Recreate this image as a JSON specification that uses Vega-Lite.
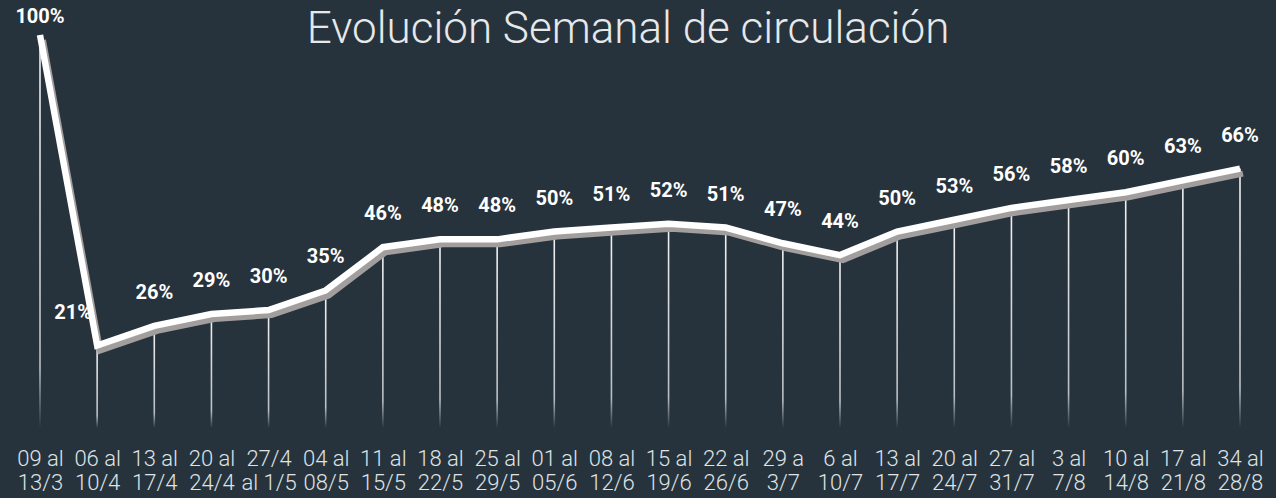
{
  "$schema": "https://vega.github.io/schema/vega-lite/v6.json",
  "width": 1200,
  "height": 393,
  "autosize": "none",
  "padding": {"left": 40, "top": 35, "right": 36, "bottom": 70},
  "background": "#27333c",
  "config": {"view": {"stroke": null}},
  "title": {
    "text": "Evolución Semanal de circulación",
    "font": "Roboto",
    "fontSize": 44,
    "fontWeight": 300,
    "color": "#e6e8ea",
    "anchor": "middle",
    "frame": "group",
    "baseline": "alphabetic",
    "offset": 0,
    "dy": 80,
    "dx": -12
  },
  "data": {
    "values": [
      {"week": "09 al|13/3", "value": 100},
      {"week": "06 al|10/4", "value": 21},
      {"week": "13 al|17/4", "value": 26},
      {"week": "20 al|24/4", "value": 29},
      {"week": "27/4|al 1/5", "value": 30},
      {"week": "04 al|08/5", "value": 35},
      {"week": "11 al|15/5", "value": 46},
      {"week": "18 al|22/5", "value": 48},
      {"week": "25 al|29/5", "value": 48},
      {"week": "01 al|05/6", "value": 50},
      {"week": "08 al|12/6", "value": 51},
      {"week": "15 al|19/6", "value": 52},
      {"week": "22 al|26/6", "value": 51},
      {"week": "29 a|3/7", "value": 47},
      {"week": "6 al|10/7", "value": 44},
      {"week": "13 al|17/7", "value": 50},
      {"week": "20 al|24/7", "value": 53},
      {"week": "27 al|31/7", "value": 56},
      {"week": "3 al|7/8", "value": 58},
      {"week": "10 al|14/8", "value": 60},
      {"week": "17 al|21/8", "value": 63},
      {"week": "34 al|28/8", "value": 66}
    ]
  },
  "encoding": {
    "x": {
      "field": "week",
      "type": "ordinal",
      "sort": null,
      "scale": {"type": "point", "padding": 0},
      "axis": {
        "title": null,
        "labelExpr": "split(datum.label, '|')",
        "labelAngle": 0,
        "labelFont": "Roboto",
        "labelFontSize": 22,
        "labelFontWeight": 300,
        "labelColor": "#dfe3e6",
        "labelLineHeight": 24,
        "labelBaseline": "top",
        "labelPadding": 20,
        "labelOverlap": false,
        "labelBound": false,
        "domain": false,
        "ticks": false,
        "grid": false
      }
    },
    "y": {
      "field": "value",
      "type": "quantitative",
      "scale": {"domain": [0, 100], "nice": false, "zero": true},
      "axis": null
    }
  },
  "layer": [
    {
      "mark": {
        "type": "bar",
        "size": 1.6,
        "fill": {
          "gradient": "linear",
          "x1": 0, "y1": 0, "x2": 0, "y2": 1,
          "stops": [
            {"offset": 0, "color": "#f2f2f2"},
            {"offset": 0.85, "color": "#b9bfc4"},
            {"offset": 1, "color": "#27333c"}
          ]
        }
      },
      "encoding": {"y2": {"datum": 0}}
    },
    {
      "mark": {"type": "line", "color": "#a39e9e", "strokeWidth": 6, "xOffset": 3, "yOffset": 5, "strokeJoin": "miter", "strokeCap": "butt"}
    },
    {
      "mark": {"type": "line", "color": "#ffffff", "strokeWidth": 6.5, "strokeJoin": "miter", "strokeCap": "butt"}
    },
    {
      "transform": [{"filter": "datum.value != 100 && datum.week != '06 al|10/4'"}],
      "mark": {"type": "text", "dy": -33, "font": "Roboto", "fontSize": 20, "fontWeight": "bold", "color": "#ffffff", "text": {"expr": "datum.value + '%'"}}
    },
    {
      "transform": [{"filter": "datum.value == 100"}],
      "mark": {"type": "text", "dy": -18, "font": "Roboto", "fontSize": 20, "fontWeight": "bold", "color": "#ffffff", "text": {"expr": "datum.value + '%'"}}
    },
    {
      "transform": [{"filter": "datum.week == '06 al|10/4'"}],
      "mark": {"type": "text", "dx": -24, "dy": -32, "font": "Roboto", "fontSize": 20, "fontWeight": "bold", "color": "#ffffff", "text": {"expr": "datum.value + '%'"}}
    }
  ]
}
